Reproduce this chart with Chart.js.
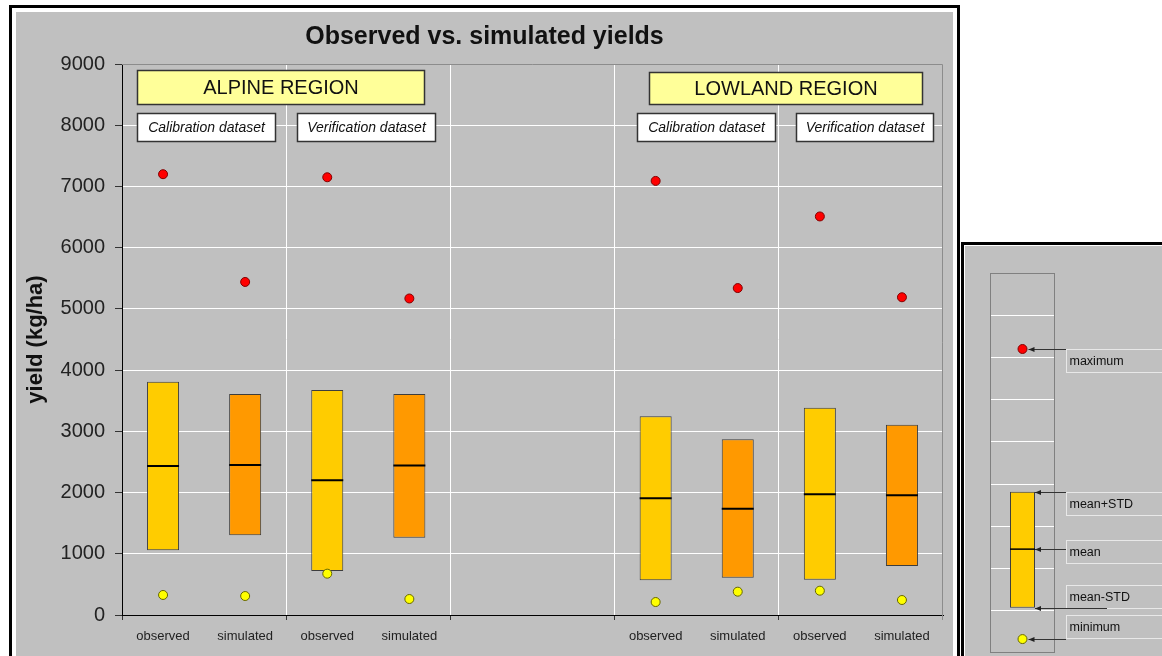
<!DOCTYPE html>
<html>
<head>
<meta charset="utf-8">
<title>Observed vs. simulated yields</title>
<script src="https://cdn.jsdelivr.net/npm/chart.js@4.4.1/dist/chart.umd.min.js"></script>
<style>
html, body { margin: 0; padding: 0; background: #fff; overflow: hidden; width: 1162px; height: 656px; }
#mainFrame { position: absolute; left: 9px; top: 5px; border: 3px solid #000; padding: 4px; background: #fff; }
#legendFrame { position: absolute; left: 961px; top: 242px; border: 3px solid #000; padding: 1px; background: #fff; }
canvas { display: block; background: #c0c0c0; }
</style>
</head>
<body>
<div id="mainFrame"><canvas id="yieldChart" width="937" height="650"></canvas></div>
<div id="legendFrame"><canvas id="keyChart" width="200" height="415"></canvas></div>
<script>
"use strict";

// Kategorier på x-axeln (två tomma platser mellan regionerna)
const categories = ['observed', 'simulated', 'observed', 'simulated', '', '', 'observed', 'simulated', 'observed', 'simulated'];
// mean-STD och mean+STD (lådans under- och överkant)
const meanMinusStd = [1057, 1302, 719, 1263, null, null, 567, 610, 577, 800];
const meanPlusStd = [3811, 3610, 3675, 3610, null, null, 3245, 2870, 3387, 3109];
const meanValues = [2434, 2450, 2200, 2440, null, null, 1906, 1737, 1971, 1955];
const maxValues = [7200, 5440, 7150, 5170, null, null, 7090, 5340, 6510, 5190];
const minValues = [327, 310, 675, 261, null, null, 212, 381, 397, 245];
const yTickValues = [0, 1000, 2000, 3000, 4000, 5000, 6000, 7000, 8000, 9000];

const regionLabels = ['ALPINE REGION', 'LOWLAND REGION'];
const datasetLabels = ['Calibration dataset', 'Verification dataset', 'Calibration dataset', 'Verification dataset'];

// Förklaringsdiagrammet till höger
const keyCategories = [''];
const keyMeanMinusStd = [1070];
const keyMeanPlusStd = [3820];
const keyMean = [2460];
const keyMax = [7200];
const keyMin = [330];
const keyLabels = ['maximum', 'mean+STD', 'mean', 'mean-STD', 'minimum'];

const FONT = "'Liberation Sans', Arial, sans-serif";
Chart.defaults.font.family = FONT;

const boxColors = categories.map(c => c === 'observed' ? '#ffcc00' : '#ff9900');

function setTicks(scale) {
    scale.ticks = yTickValues.map(v => ({ value: v }));
}

// Ramar och textrutor i huvuddiagrammet
const notesPlugin = {
    id: 'notes',
    beforeDatasetsDraw(chart) {
        const { ctx, chartArea: a } = chart;
        ctx.save();
        ctx.strokeStyle = '#8c8c8c';
        ctx.lineWidth = 1;
        ctx.beginPath();
        ctx.moveTo(a.left, a.top + 0.5);
        ctx.lineTo(a.right - 0.5, a.top + 0.5);
        ctx.lineTo(a.right - 0.5, a.bottom + 5);
        ctx.stroke();
        ctx.restore();
    },
    afterDatasetsDraw(chart) {
        const { ctx, chartArea: a } = chart;
        const x = chart.scales.x;
        const boxes = [
            { text: regionLabels[0], from: -0.317, to: 3.18, top: 6, h: 34, font: '20px ' + FONT, fill: '#ffff99' },
            { text: regionLabels[1], from: 5.918, to: 9.24, top: 8, h: 32, font: '20px ' + FONT, fill: '#ffff99' },
            { text: datasetLabels[0], from: -0.317, to: 1.366, top: 49, h: 28, font: 'italic 14px ' + FONT, fill: '#ffffff' },
            { text: datasetLabels[1], from: 1.626, to: 3.309, top: 49, h: 28, font: 'italic 14px ' + FONT, fill: '#ffffff' },
            { text: datasetLabels[2], from: 5.768, to: 7.451, top: 49, h: 28, font: 'italic 14px ' + FONT, fill: '#ffffff' },
            { text: datasetLabels[3], from: 7.711, to: 9.382, top: 49, h: 28, font: 'italic 14px ' + FONT, fill: '#ffffff' }
        ];
        ctx.save();
        boxes.forEach(b => {
            const l = Math.round(x.getPixelForValue(b.from)) + 0.5;
            const r = Math.round(x.getPixelForValue(b.to)) + 0.5;
            const t = a.top + b.top + 0.5;
            ctx.fillStyle = b.fill;
            ctx.fillRect(l, t, r - l, b.h);
            ctx.strokeStyle = '#333';
            ctx.lineWidth = 1.5;
            ctx.strokeRect(l, t, r - l, b.h);
            ctx.fillStyle = '#111';
            ctx.font = b.font;
            ctx.textAlign = 'center';
            ctx.textBaseline = 'middle';
            ctx.fillText(b.text, (l + r) / 2, t + b.h / 2 + 1);
        });
        ctx.restore();
    }
};

new Chart(document.getElementById('yieldChart'), {
    type: 'bar',
    data: {
        labels: categories,
        datasets: [{
            label: 'mean ± STD',
            data: meanMinusStd.map((lo, i) => lo === null ? null : [lo, meanPlusStd[i]]),
            backgroundColor: boxColors,
            borderColor: '#3d3d3d',
            borderWidth: 1,
            borderSkipped: false,
            barPercentage: 0.39,
            categoryPercentage: 1,
            order: 3
        }, {
            type: 'line',
            label: 'mean',
            data: meanValues,
            showLine: false,
            pointStyle: 'line',
            pointRadius: 16,
            pointBorderWidth: 2,
            pointBorderColor: '#000',
            order: 2
        }, {
            type: 'line',
            label: 'maximum',
            data: maxValues,
            showLine: false,
            pointRadius: 4.5,
            pointBackgroundColor: '#ff0000',
            pointBorderColor: '#800000',
            pointBorderWidth: 1,
            order: 1
        }, {
            type: 'line',
            label: 'minimum',
            data: minValues,
            showLine: false,
            pointRadius: 4.5,
            pointBackgroundColor: '#ffff00',
            pointBorderColor: '#666600',
            pointBorderWidth: 1,
            order: 0
        }]
    },
    options: {
        responsive: false,
        animation: false,
        events: [],
        layout: { autoPadding: false, padding: { left: 10, right: 10, top: 0, bottom: 0 } },
        plugins: {
            legend: { display: false },
            tooltip: { enabled: false },
            title: {
                display: true,
                text: 'Observed vs. simulated yields',
                color: '#111',
                font: { size: 25, weight: 'bold' },
                padding: { top: 10, bottom: 12 }
            }
        },
        scales: {
            x: {
                offset: true,
                afterFit: s => { s.height = 47; },
                border: { color: '#000', width: 1 },
                grid: {
                    offset: true,
                    tickLength: 5,
                    color: c => (c.type === 'tick' && c.index > 0 && c.index % 2 === 0) ? '#ffffff' : 'rgba(0,0,0,0)',
                    tickColor: c => (c.type !== 'tick' || c.index % 2 === 0) ? '#333' : 'rgba(0,0,0,0)'
                },
                ticks: { color: '#222', font: { size: 13 }, padding: 9, maxRotation: 0, autoSkip: false }
            },
            y: {
                min: 0,
                max: 9000,
                afterBuildTicks: setTicks,
                afterFit: s => { s.width = 96; },
                border: { color: '#000', width: 1 },
                grid: {
                    tickLength: 7,
                    color: c => (c.tick && c.tick.value > 0 && c.tick.value < 9000) ? '#ffffff' : 'rgba(0,0,0,0)',
                    tickColor: '#333'
                },
                ticks: { color: '#222', font: { size: 20 }, padding: 10, callback: v => String(v) },
                title: {
                    display: true,
                    text: 'yield (kg/ha)',
                    color: '#111',
                    font: { size: 22, weight: 'bold' },
                    padding: { top: -3, bottom: 0 }
                }
            }
        }
    },
    plugins: [notesPlugin]
});

// Pilar och etiketter i förklaringen
const keyPlugin = {
    id: 'keyNotes',
    afterDraw(chart) {
        const { ctx, chartArea: a } = chart;
        const y = chart.scales.y;
        const bar = chart.getDatasetMeta(0).data[0];
        const pt = chart.getDatasetMeta(2).data[0];
        const barRight = bar.x + bar.width / 2;
        const values = [keyMax[0], keyMeanPlusStd[0], keyMean[0], keyMeanMinusStd[0], keyMin[0]];
        const tips = [pt.x + 6, barRight, barRight, barRight, pt.x + 6];
        const boxShift = [0, 0, -9, -23, -24];
        const starts = [a.right + 11, a.right + 11, a.right + 11, a.right + 52, a.right + 11];

        ctx.save();
        ctx.strokeStyle = '#808080';
        ctx.lineWidth = 1;
        ctx.strokeRect(a.left + 0.5, a.top + 0.5, a.right - a.left - 1, a.bottom - a.top - 1);

        keyLabels.forEach((label, i) => {
            const ay = Math.round(y.getPixelForValue(values[i])) + 0.5;
            const bx = a.right + 11.5;
            const by = ay + boxShift[i];
            ctx.strokeStyle = '#e8e8e8';
            ctx.strokeRect(bx, by, 200, 23);
            ctx.fillStyle = '#111';
            ctx.font = '12.5px ' + FONT;
            ctx.textAlign = 'left';
            ctx.textBaseline = 'middle';
            ctx.fillText(label, bx + 3, by + 12);

            ctx.strokeStyle = '#333';
            ctx.beginPath();
            ctx.moveTo(starts[i], ay);
            ctx.lineTo(tips[i], ay);
            ctx.stroke();
            ctx.fillStyle = '#222';
            ctx.beginPath();
            ctx.moveTo(tips[i], ay);
            ctx.lineTo(tips[i] + 6, ay - 2.5);
            ctx.lineTo(tips[i] + 6, ay + 2.5);
            ctx.closePath();
            ctx.fill();
        });
        ctx.restore();
    }
};

new Chart(document.getElementById('keyChart'), {
    type: 'bar',
    data: {
        labels: keyCategories,
        datasets: [{
            data: keyMeanMinusStd.map((lo, i) => [lo, keyMeanPlusStd[i]]),
            backgroundColor: '#ffcc00',
            borderColor: '#3d3d3d',
            borderWidth: 1,
            borderSkipped: false,
            barPercentage: 0.385,
            categoryPercentage: 1,
            order: 3
        }, {
            type: 'line',
            data: keyMean,
            showLine: false,
            pointStyle: 'line',
            pointRadius: 12.5,
            pointBorderWidth: 1.5,
            pointBorderColor: '#000',
            order: 2
        }, {
            type: 'line',
            data: keyMax,
            showLine: false,
            pointRadius: 4.5,
            pointBackgroundColor: '#ff0000',
            pointBorderColor: '#800000',
            pointBorderWidth: 1,
            order: 1
        }, {
            type: 'line',
            data: keyMin,
            showLine: false,
            pointRadius: 4.5,
            pointBackgroundColor: '#ffff00',
            pointBorderColor: '#666600',
            pointBorderWidth: 1,
            order: 0
        }]
    },
    options: {
        responsive: false,
        animation: false,
        events: [],
        layout: { autoPadding: false, padding: { left: 25, top: 27, right: 110, bottom: 8 } },
        plugins: { legend: { display: false }, tooltip: { enabled: false }, title: { display: false } },
        scales: {
            x: { display: false, offset: true },
            y: {
                min: 0,
                max: 9000,
                afterBuildTicks: setTicks,
                afterFit: s => { s.width = 0; },
                border: { display: false },
                ticks: { display: false },
                grid: {
                    drawTicks: false,
                    color: c => (c.tick && c.tick.value > 0 && c.tick.value < 9000) ? '#ffffff' : 'rgba(0,0,0,0)'
                }
            }
        }
    },
    plugins: [keyPlugin]
});
</script>
</body>
</html>
